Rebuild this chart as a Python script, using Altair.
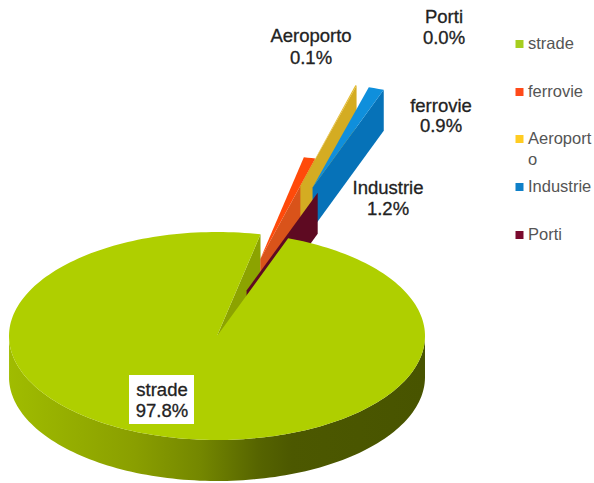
import math
import altair as alt
import pandas as pd

# Shares of each transport source, in drawing order around the pie
names = ["strade", "ferrovie", "Aeroporto", "Industrie", "Porti"]
shares = [97.8, 0.9, 0.1, 1.2, 0.0]
explode = [0.0, 0.77, 1.5, 1.5, 0.46]
explode_tilt = [0, 2, 0, 0, -2]
top_colors = ["#AFCF00", "#FF4A0A", "#E3B92A", "#0F8FDC", "#5E0A22"]
wall_colors = ["#8CA300", "#D9531A", "#D4AC22", "#0672B8", "#5E0A22"]
legend_colors = ["#A6CE1E", "#FF4A1A", "#FFCC22", "#0F80C8", "#7A0A2E"]
legend_labels = ["strade", "ferrovie", "Aeroport", "Industrie", "Porti"]
legend_rows = [44, 92, 139, 187, 235]

label_lines = [
    ("Aeroporto", 311, 36), ("0.1%", 311, 58),
    ("Porti", 444, 17), ("0.0%", 444, 38),
    ("ferrovie", 441, 106), ("0.9%", 441, 126),
    ("Industrie", 388, 188), ("1.2%", 388, 209),
    ("strade", 162, 390), ("97.8%", 162, 411),
]

W, H = 594, 483
CX, CY, RX, RY, DEPTH = 217.0, 336.0, 208.0, 104.0, 41.0
START_DEG = 20.0


def project(deg, radius, offset_deg, offset, drop=0.0):
    a = math.radians(deg)
    b = math.radians(offset_deg)
    x = CX + RX * (radius * math.sin(a) + offset * math.sin(b))
    y = CY - RY * (radius * math.cos(a) + offset * math.cos(b)) + drop
    return x, y


def polygon(pid, pts):
    return pd.DataFrame(
        {"pid": pid, "i": range(len(pts)), "x": [p[0] for p in pts], "y": [p[1] for p in pts]}
    )


def filled(pid, pts, fill):
    return (
        alt.Chart(polygon(pid, pts))
        .mark_line(fill=fill, stroke=None, interpolate="linear-closed", clip=True)
        .encode(
            x=alt.X("x:Q", scale=alt.Scale(domain=[0, W], nice=False, zero=False), axis=None),
            y=alt.Y("y:Q", scale=alt.Scale(domain=[H, 0], nice=False, zero=False), axis=None),
            order="i:Q",
        )
    )


def arc_angles(a0, a1):
    steps = max(2, int(abs(a1 - a0) / 1.5) + 2)
    return [a0 + (a1 - a0) * k / (steps - 1) for k in range(steps)]


# Angular extent of every slice, clockwise from the start angle
spans = []
angle = START_DEG
for s in shares:
    spans.append((angle, angle + s * 3.6))
    angle += s * 3.6

layers = []

# Main slice: outer wall with its shading, then the inner wall of the notch
a0, a1 = spans[0]
front = [a for a in arc_angles(a0, a1) if 90 <= a % 720 <= 270]
outer_wall = [project(a, 1, 0, 0) for a in front] + [project(a, 1, 0, 0, DEPTH) for a in reversed(front)]
wall_gradient = alt.Gradient(
    gradient="linear", x1=0, x2=1, y1=0, y2=0,
    stops=[
        alt.GradientStop(offset=0, color="#A0BC00"),
        alt.GradientStop(offset=0.3, color="#8A9F00"),
        alt.GradientStop(offset=0.46, color="#748700"),
        alt.GradientStop(offset=0.6, color="#566400"),
        alt.GradientStop(offset=0.68, color="#4C5800"),
        alt.GradientStop(offset=1, color="#485400"),
    ],
)
layers.append(filled("wall", outer_wall, wall_gradient))
notch_wall = [project(a1, 0, 0, 0), project(a1, 1, 0, 0), project(a1, 1, 0, 0, DEPTH), project(a1, 0, 0, 0, DEPTH)]
layers.append(filled("notch", notch_wall, wall_colors[0]))

# Exploded slices, back to front: radial wall, then top face
for k in range(1, len(names)):
    s0, s1 = spans[k]
    mid = (s0 + s1) / 2 + explode_tilt[k]
    e = explode[k]
    right = [project(s1, 0, mid, e), project(s1, 1, mid, e), project(s1, 1, mid, e, DEPTH), project(s1, 0, mid, e, DEPTH)]
    layers.append(filled(f"{names[k]}-wall", right, wall_colors[k]))
    if s1 > s0:
        top = [project(0, 0, mid, e)] + [project(a, 1, mid, e) for a in arc_angles(s0, s1)]
        layers.append(filled(f"{names[k]}-top", top, top_colors[k]))

# Top face of the main slice sits above everything else
top_face = [project(0, 0, 0, 0)] + [project(a, 1, 0, 0) for a in arc_angles(a0, a1)]
layers.append(filled("top", top_face, top_colors[0]))

x_enc = alt.X("x:Q", scale=alt.Scale(domain=[0, W], nice=False, zero=False), axis=None)
y_enc = alt.Y("y:Q", scale=alt.Scale(domain=[H, 0], nice=False, zero=False), axis=None)

# White plate behind the main slice's label
plate = pd.DataFrame({"x": [129], "x2": [194], "y": [375], "y2": [424]})
layers.append(
    alt.Chart(plate).mark_rect(color="white").encode(x=x_enc, x2="x2:Q", y=y_enc, y2="y2:Q")
)

# Data labels
labels = pd.DataFrame(label_lines, columns=["t", "x", "y"])
layers.append(
    alt.Chart(labels)
    .mark_text(font="Liberation Sans", fontSize=18.5, color="#222222", stroke="#222222", strokeWidth=0.3,
               baseline="middle", align="center")
    .encode(x=x_enc, y=y_enc, text="t:N")
)

# Legend swatches and entries
swatches = pd.DataFrame({"x": [519.5] * 5, "y": legend_rows, "c": legend_colors})
layers.append(
    alt.Chart(swatches)
    .mark_square(size=64, opacity=1)
    .encode(x=x_enc, y=y_enc, color=alt.Color("c:N", scale=None))
)
entries = pd.DataFrame(
    {"x": [528] * 6, "y": legend_rows + [160], "t": legend_labels + ["o"]}
)
layers.append(
    alt.Chart(entries)
    .mark_text(font="Liberation Sans", fontSize=16.5, color="#555555", baseline="middle", align="left")
    .encode(x=x_enc, y=y_enc, text="t:N")
)

chart = (
    alt.layer(*layers)
    .properties(width=W, height=H, padding=0, autosize=alt.AutoSizeParams(type="none"), background="white")
    .configure_view(stroke=None)
)
chart.save("out.html", embed_options={"renderer": "svg", "actions": False})
